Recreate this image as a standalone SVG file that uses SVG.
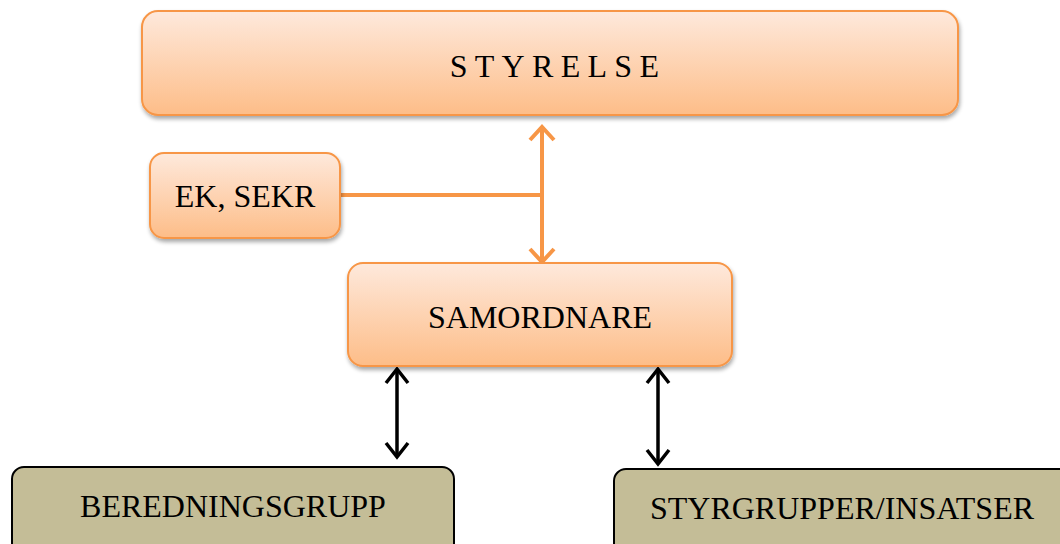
<svg xmlns="http://www.w3.org/2000/svg" width="1060" height="544" viewBox="0 0 1060 544">
<style>
.org{fill:url(#og);stroke:#f79646;stroke-width:2;filter:url(#sh)}
.olv{fill:#c4bd97;stroke:#000;stroke-width:2}
.t{font-family:"Liberation Serif","Times New Roman",serif;fill:#000;text-anchor:middle;font-size:32px}
.oc{stroke:#f79646;stroke-width:4;fill:none}
.bc{stroke:#000;stroke-width:3.5;fill:none}
</style>
<defs>
<linearGradient id="og" x1="0" y1="0" x2="0" y2="1">
<stop offset="0" stop-color="#fee9dc"/>
<stop offset="1" stop-color="#fdbd88"/>
</linearGradient>
<filter id="sh" x="-10%" y="-20%" width="120%" height="150%">
<feGaussianBlur in="SourceAlpha" stdDeviation="2"/>
<feOffset dx="1" dy="3" result="b"/>
<feComponentTransfer><feFuncA type="linear" slope="0.35"/></feComponentTransfer>
<feMerge><feMergeNode/><feMergeNode in="SourceGraphic"/></feMerge>
</filter>
</defs>
<g id="connectors">
<path class="oc" d="M542 127 V262"/>
<path class="oc" d="M530 140 L542 127 L554 140"/>
<path class="oc" d="M530 249 L542 262 L554 249"/>
<path class="oc" d="M341 195 H542"/>
<path class="bc" d="M397 369 V457"/>
<path class="bc" d="M386 383 L397 369 L408 383"/>
<path class="bc" d="M386 443 L397 457 L408 443"/>
<path class="bc" d="M658 369 V464"/>
<path class="bc" d="M647 383 L658 369 L669 383"/>
<path class="bc" d="M647 450 L658 464 L669 450"/>
</g>
<g id="styrelse">
<rect class="org" x="142" y="11" width="816" height="104" rx="16"/>
<text class="t" x="558" y="77" letter-spacing="7.3">STYRELSE</text>
</g>
<g id="ek-sekr">
<rect class="org" x="150" y="153" width="190" height="85" rx="14"/>
<text class="t" x="245" y="207">EK, SEKR</text>
</g>
<g id="samordnare">
<rect class="org" x="348" y="263" width="384" height="103" rx="15"/>
<text class="t" x="540" y="328">SAMORDNARE</text>
</g>
<g id="beredningsgrupp">
<rect class="olv" x="12" y="467" width="442" height="90" rx="12"/>
<text class="t" x="233" y="517">BEREDNINGSGRUPP</text>
</g>
<g id="styrgrupper">
<rect class="olv" x="614" y="469" width="460" height="90" rx="12"/>
<text class="t" x="842" y="519">STYRGRUPPER/INSATSER</text>
</g>
</svg>
